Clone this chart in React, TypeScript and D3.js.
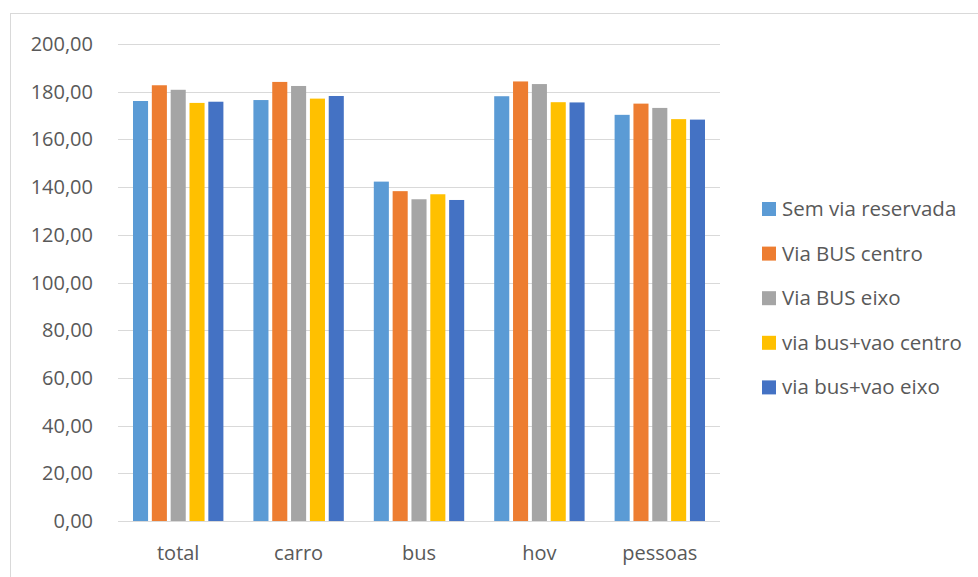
import React from 'react';
import * as d3 from 'd3';

const categories = ['total', 'carro', 'bus', 'hov', 'pessoas'];
const seriesNames = [
  'Sem via reservada',
  'Via BUS centro',
  'Via BUS eixo',
  'via bus+vao centro',
  'via bus+vao eixo',
];
const semVia = [176.1, 176.5, 142.3, 178.1, 170.3];
const busCentro = [182.7, 184.1, 138.3, 184.3, 175.0];
const busEixo = [180.8, 182.4, 134.9, 183.2, 173.2];
const vaoCentro = [175.3, 177.1, 137.0, 175.6, 168.5];
const vaoEixo = [175.8, 178.2, 134.6, 175.5, 168.3];
const yTicks = [0, 20, 40, 60, 80, 100, 120, 140, 160, 180, 200];

const colors = ['#5B9BD5', '#ED7D31', '#A5A5A5', '#FFC000', '#4472C4'];

const W = 978;
const H = 577;
const plot = { left: 118, right: 720, top: 44, bottom: 521 };
const font = "'Open Sans', 'Liberation Sans', sans-serif";

export default function App() {
  const series = [semVia, busCentro, busEixo, vaoCentro, vaoEixo];

  const x0 = d3
    .scaleBand<string>()
    .domain(categories)
    .range([plot.left, plot.right])
    .paddingInner(0)
    .paddingOuter(0);

  const groupPad = 15;
  const x1 = d3
    .scaleBand<number>()
    .domain(d3.range(series.length))
    .range([groupPad, x0.bandwidth() - groupPad])
    .paddingInner(0.2);

  const y = d3.scaleLinear().domain([0, 200]).range([plot.bottom, plot.top]);
  const fmt = (v: number) => v.toFixed(2).replace('.', ',');

  return (
    <svg
      width={W}
      height={H}
      style={{ position: 'absolute', left: 0, top: 0, background: '#fff' }}
      fontFamily={font}
    >
      <rect x={10.5} y={13.5} width={990} height={600} fill="#fff" stroke="#D9D9D9" />
      {yTicks.map((t) => (
        <g key={t}>
          <line
            x1={plot.left}
            x2={plot.right}
            y1={Math.round(y(t)) + 0.5}
            y2={Math.round(y(t)) + 0.5}
            stroke="#D9D9D9"
            strokeWidth={1}
          />
          <text x={93} y={y(t) + 7} textAnchor="end" fontSize={20} fill="#595959">
            {fmt(t)}
          </text>
        </g>
      ))}
      {categories.map((c, ci) => (
        <g key={c} transform={`translate(${x0(c)},0)`}>
          {series.map((s, si) => (
            <rect
              key={si}
              x={x1(si)}
              width={x1.bandwidth()}
              y={y(s[ci])}
              height={y(0) - y(s[ci])}
              fill={colors[si]}
            />
          ))}
          <text
            x={x0.bandwidth() / 2}
            y={560}
            textAnchor="middle"
            fontSize={20}
            fill="#595959"
          >
            {c}
          </text>
        </g>
      ))}
      <line
        x1={plot.left}
        x2={plot.right}
        y1={Math.round(y(0)) + 0.5}
        y2={Math.round(y(0)) + 0.5}
        stroke="#D9D9D9"
      />
      {seriesNames.map((name, i) => {
        const ly = 209 + i * 44.6;
        return (
          <g key={name}>
            <rect x={762} y={ly - 7} width={14} height={14} fill={colors[i]} />
            <text x={782} y={ly + 7} fontSize={20.5} fill="#595959">
              {name}
            </text>
          </g>
        );
      })}
    </svg>
  );
}
